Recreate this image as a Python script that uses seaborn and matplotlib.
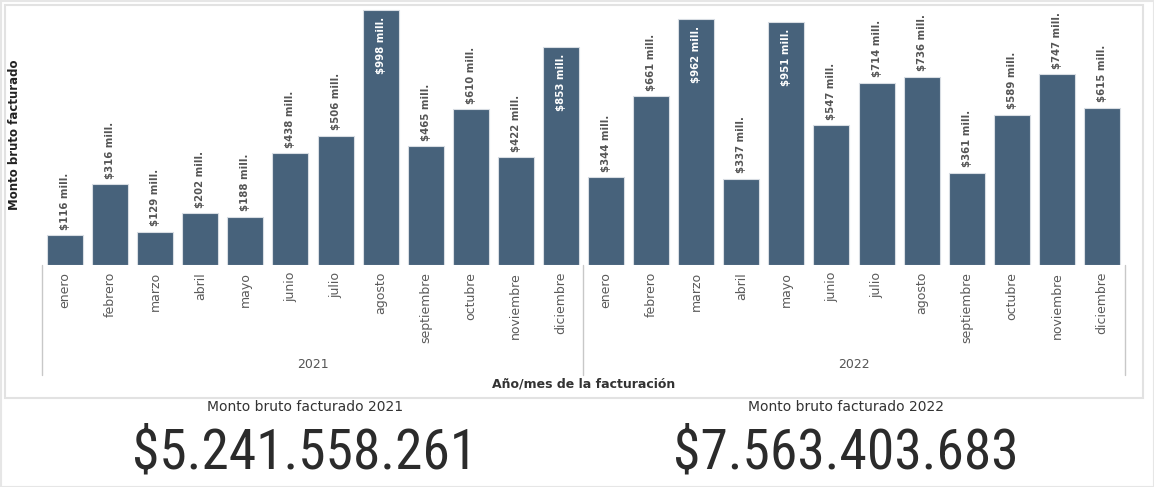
import matplotlib
matplotlib.use("Agg")
import matplotlib.pyplot as plt
import matplotlib.transforms as mtransforms
from matplotlib import font_manager
from matplotlib.patches import Rectangle
from matplotlib.lines import Line2D
import seaborn as sns
import pandas as pd

# --- Daten ---
years = ["2021", "2022"]
months = ["enero", "febrero", "marzo", "abril", "mayo", "junio", "julio",
          "agosto", "septiembre", "octubre", "noviembre", "diciembre"]
monto_2021 = [116, 316, 129, 202, 188, 438, 506, 998, 465, 610, 422, 853]
monto_2022 = [344, 661, 962, 337, 951, 547, 714, 736, 361, 589, 747, 615]
total_2021 = "$5.241.558.261"
total_2022 = "$7.563.403.683"

rows = []
for y, vals in zip(years, [monto_2021, monto_2022]):
    for m, v in zip(months, vals):
        rows.append({"periodo": f"{y}-{m}", "anio": y, "mes": m, "monto": v})
df = pd.DataFrame(rows)

sns.set_theme(style="white")
plt.rcParams['font.family'] = ['DejaVu Sans']

# schmale Schrift für die KPI-Zahlen suchen
available = {f.name for f in font_manager.fontManager.ttflist}
big_font = "DejaVu Sans"
for cand in ["Liberation Sans Narrow", "Roboto Condensed", "DejaVu Sans Condensed"]:
    if cand in available:
        big_font = cand
        break

W, H = 1154, 487
fig = plt.figure(figsize=(W / 100, H / 100), dpi=100)
fig.patch.set_facecolor("white")

ax = fig.add_axes([42.5 / W, (H - 265) / H, (1124.5 - 42.5) / W, 257 / H])
bar_color = "#47627b"
sns.barplot(data=df, x="periodo", y="monto", order=df["periodo"], color=bar_color,
            width=0.8, edgecolor="#d8dde3", linewidth=0.8, saturation=1, ax=ax)
ax.set_ylim(0, 1006)
ax.set_xlim(-0.5, len(df) - 0.5)
sns.despine(ax=ax, left=True, bottom=True)
ax.set_yticks([])
ax.set_ylabel("")
ax.set_xlabel("")
ax.set_xticks(range(len(df)))
ax.set_xticklabels(df["mes"], rotation=90, fontsize=9, color="#5a5a5a")
ax.tick_params(axis="x", length=0, pad=5)

# Werte-Labels
for i, v in enumerate(df["monto"]):
    txt = f"${v} mill."
    if v > 800:
        ax.annotate(txt, (i, v), xytext=(0, -5), textcoords="offset points",
                    rotation=90, ha="center", va="top", fontsize=7.3,
                    fontweight="bold", color="white")
    else:
        ax.annotate(txt, (i, v), xytext=(0, 4), textcoords="offset points",
                    rotation=90, ha="center", va="bottom", fontsize=7.3,
                    fontweight="bold", color="#555555")

# Jahres-Trenner und Jahres-Labels
trans = mtransforms.blended_transform_factory(ax.transData, ax.transAxes)
for xpos in [-0.5, 11.5, 23.5]:
    ax.add_line(Line2D([xpos, xpos], [0, -110 / 257], transform=trans,
                       color="#c8c8c8", lw=1, clip_on=False))
for k, y in enumerate(years):
    ax.text(5.5 + 12 * k, -100 / 257, y, transform=trans, ha="center",
            va="center", fontsize=9, color="#555555")

ax.text(0.5, -119 / 257, "Año/mes de la facturación", transform=ax.transAxes,
        ha="center", va="center", fontsize=9, fontweight="bold", color="#333333")
fig.text(15 / W, 1 - 135 / H, "Monto bruto facturado", rotation=90, ha="center",
         va="center", fontsize=8.5, fontweight="bold", color="#222222")

# Rahmen
fig.add_artist(Rectangle((5 / W, 1 - 398 / H), (1143 - 5) / W, (398 - 5) / H,
                         transform=fig.transFigure, fill=False,
                         edgecolor="#e2e2e2", lw=1.5))
fig.add_artist(Rectangle((0.5 / W, 0.5 / H), (W - 1) / W, (H - 1) / H,
                         transform=fig.transFigure, fill=False,
                         edgecolor="#e6e6e6", lw=1.5))

# KPI-Bereich
for cx, y, total in [(305, "2021", total_2021), (846, "2022", total_2022)]:
    fig.text(cx / W, 1 - 407 / H, f"Monto bruto facturado {y}", ha="center",
             va="center", fontsize=10, color="#333333")
    fig.text(cx / W, 1 - 453 / H, total, ha="center", va="center",
             fontsize=40, color="#2b2b2b", family=big_font)

fig.savefig("out.png", dpi=100)
plt.close(fig)
